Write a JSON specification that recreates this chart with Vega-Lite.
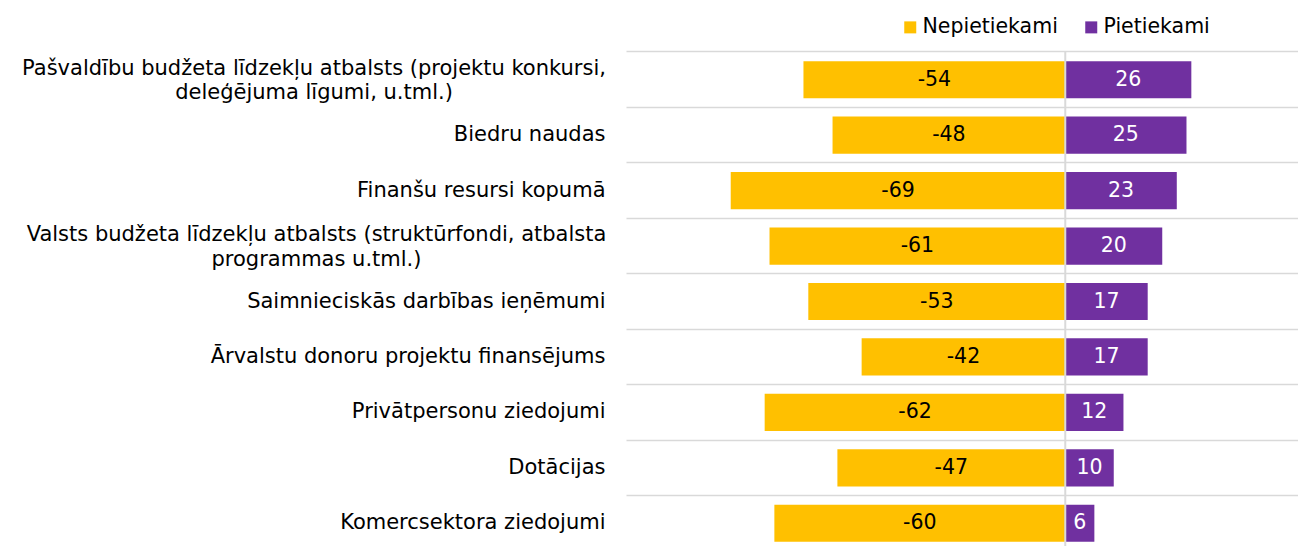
{
  "$schema": "https://vega.github.io/schema/vega-lite/v6.json",
  "autosize": {"type": "none"},
  "padding": {"left": 626, "top": 52, "right": 0, "bottom": 0},
  "width": 672,
  "height": 499,
  "config": {"view": {"stroke": null}, "font": "DejaVu Sans"},
  "data": {"values": [
    {"category": "Pašvaldību budžeta līdzekļu atbalsts (projektu konkursi,|deleģējuma līgumi, u.tml.)", "type": "Nepietiekami", "value": -54},
    {"category": "Pašvaldību budžeta līdzekļu atbalsts (projektu konkursi,|deleģējuma līgumi, u.tml.)", "type": "Pietiekami", "value": 26},
    {"category": "Biedru naudas", "type": "Nepietiekami", "value": -48},
    {"category": "Biedru naudas", "type": "Pietiekami", "value": 25},
    {"category": "Finanšu resursi kopumā", "type": "Nepietiekami", "value": -69},
    {"category": "Finanšu resursi kopumā", "type": "Pietiekami", "value": 23},
    {"category": "Valsts budžeta līdzekļu atbalsts (struktūrfondi, atbalsta|programmas u.tml.)", "type": "Nepietiekami", "value": -61},
    {"category": "Valsts budžeta līdzekļu atbalsts (struktūrfondi, atbalsta|programmas u.tml.)", "type": "Pietiekami", "value": 20},
    {"category": "Saimnieciskās darbības ieņēmumi", "type": "Nepietiekami", "value": -53},
    {"category": "Saimnieciskās darbības ieņēmumi", "type": "Pietiekami", "value": 17},
    {"category": "Ārvalstu donoru projektu finansējums", "type": "Nepietiekami", "value": -42},
    {"category": "Ārvalstu donoru projektu finansējums", "type": "Pietiekami", "value": 17},
    {"category": "Privātpersonu ziedojumi", "type": "Nepietiekami", "value": -62},
    {"category": "Privātpersonu ziedojumi", "type": "Pietiekami", "value": 12},
    {"category": "Dotācijas", "type": "Nepietiekami", "value": -47},
    {"category": "Dotācijas", "type": "Pietiekami", "value": 10},
    {"category": "Komercsektora ziedojumi", "type": "Nepietiekami", "value": -60},
    {"category": "Komercsektora ziedojumi", "type": "Pietiekami", "value": 6}
  ]},
  "layer": [
    {
      "mark": {"type": "bar"},
      "encoding": {
        "y": {
          "field": "category", "type": "nominal", "sort": null,
          "scale": {"paddingInner": 0.33, "paddingOuter": 0.165},
          "axis": {
            "title": null, "domain": false, "ticks": false, "grid": true,
            "bandPosition": -0.2463,
            "gridColor": "#d9d9d9", "gridWidth": 1.5,
            "labelFontSize": 21, "labelColor": "black", "labelPadding": 21, "labelLimit": 800,
            "labelLineHeight": 24.5, "labelBaseline": "middle",
            "labelExpr": "datum.value ? split(datum.value, '|') : ''",
            "encoding": {"labels": {
              "align": {"condition": {"test": "indexof(datum.value, '|') >= 0", "value": "center"}, "value": "right"},
              "dx": {"condition": [
                {"test": "indexof(datum.value, 'Pašvaldību') >= 0", "value": -291.5},
                {"test": "indexof(datum.value, 'Valsts') >= 0", "value": -289}
              ], "value": 0},
              "dy": {"condition": {"test": "indexof(datum.value, '|') >= 0", "value": -10.75}, "value": 0}
            }}
          }
        },
        "x": {"field": "value", "type": "quantitative", "stack": "zero",
              "scale": {"domain": [-90.6, 48], "nice": false}, "axis": null},
        "color": {
          "field": "type", "type": "nominal",
          "scale": {"domain": ["Nepietiekami", "Pietiekami"], "range": ["#FFC000", "#7030A0"]},
          "legend": {
            "title": null, "orient": "none", "legendX": 274, "legendY": -35,
            "direction": "horizontal", "symbolType": "square", "symbolSize": 144,
            "symbolStrokeWidth": 0, "labelFontSize": 20.5, "labelOffset": 2,
            "columnPadding": 23, "labelColor": "black"
          }
        }
      }
    },
    {
      "mark": {"type": "text", "fontSize": 20.5, "baseline": "middle", "align": "center"},
      "encoding": {
        "y": {"field": "category", "type": "nominal", "sort": null},
        "x": {"field": "value", "type": "quantitative", "stack": "zero", "bandPosition": 0.5},
        "detail": {"field": "type"},
        "text": {"field": "value", "type": "nominal"},
        "color": {"condition": {"test": "datum.type === 'Pietiekami'", "value": "white"}, "value": "black"}
      }
    },
    {
      "data": {"values": [{}]},
      "mark": {"type": "rule", "color": "#d9d9d9", "strokeWidth": 2},
      "encoding": {"x": {"datum": 0}}
    }
  ]
}
